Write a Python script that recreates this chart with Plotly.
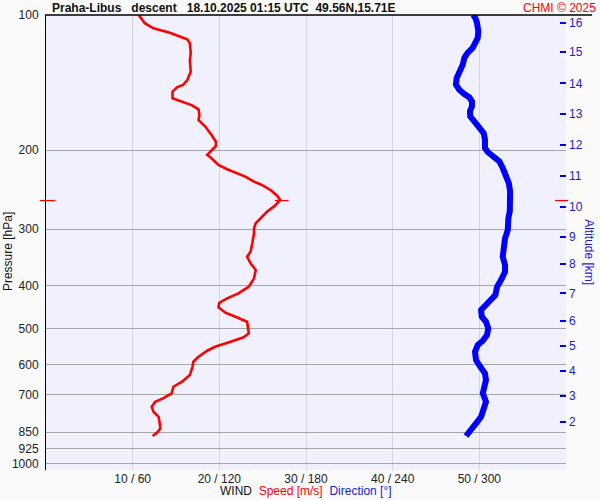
import plotly.graph_objects as go

# wind speed profile (m/s) vs pressure (hPa)
speed_p = [100, 104.3, 107.1, 108.4, 109.5, 111.8, 113.3, 115.6, 121.7, 126.0,
           133.8, 139.6, 143.2, 144.9, 148.2, 153.3, 155.2, 157.3, 158.7, 162.2,
           167.0, 171.4, 177.4, 185.0, 191.5, 195.8, 201.6, 205.0, 208.5, 215.8,
           220.6, 225.2, 229.1, 235.1, 239.1, 245.3, 252.9, 258.2, 265.0, 274.2,
           283.7, 291.0, 298.6, 306.3, 322.5, 336.7, 345.4, 357.3, 369.8, 385.9,
           402.9, 416.8, 427.6, 437.4, 447.7, 460.3, 471.3, 482.2, 511.6, 522.2,
           534.1, 548.1, 559.4, 576.8, 591.8, 607.4, 633.9, 655.9, 672.9, 696.3,
           714.4, 726.9, 745.8, 765.2, 785.1, 832.8, 851.8, 866.3]
speed = [10.7, 11.4, 12.4, 13.4, 14.3, 15.5, 16.3, 16.6, 16.7, 16.6,
         16.7, 16.3, 15.8, 15.1, 14.6, 14.6, 15.3, 16.1, 16.8, 17.6,
         17.7, 17.6, 18.4, 19.1, 19.6, 19.6, 19.0, 18.6, 19.1, 19.9,
         20.9, 22.0, 23.0, 24.0, 24.9, 25.9, 26.7, 27.0, 26.5, 25.5,
         24.7, 24.2, 24.0, 24.0, 23.8, 23.6, 23.2, 23.6, 24.2, 24.0,
         23.4, 22.2, 20.9, 20.0, 19.9, 20.7, 22.0, 23.2, 23.4, 22.8,
         21.3, 19.5, 18.6, 17.6, 17.0, 16.9, 16.6, 15.7, 14.7, 14.5,
         13.5, 12.6, 12.2, 12.4, 13.0, 13.2, 12.8, 12.3]

# wind direction profile (deg) vs pressure (hPa)
dir_p = [100, 101.5, 104.2, 108.7, 112.5, 115.4, 118.4, 121.5, 124.7, 129.0,
         133.5, 138.1, 142.9, 146.7, 150.0, 152.5, 155.7, 159.7, 163.9, 168.1,
         172.5, 177.9, 183.2, 189.5, 197.8, 201.9, 206.4, 211.8, 219.2, 228.7,
         236.7, 247.0, 260.0, 273.6, 283.3, 301.2, 314.3, 328.1, 345.4, 360.5,
         373.0, 389.3, 402.9, 420.4, 431.3, 442.5, 454.0, 469.9, 482.2, 498.8,
         516.2, 531.4, 543.3, 562.3, 586.7, 607.4, 628.1, 650.2, 672.9, 696.3,
         726.9, 751.6, 785.1, 812.0, 840.2, 866.3]
direction = [295.6, 297.2, 298.4, 299.3, 298.9, 297.7, 295.4, 291.9, 289.6, 288.5,
             286.1, 284.3, 283.8, 286.1, 289.6, 293.0, 294.9, 294.9, 293.5, 293.7,
             296.5, 300.0, 303.0, 303.9, 303.9, 305.8, 310.4, 313.9, 316.2, 318.5,
             320.4, 321.3, 321.3, 321.1, 320.1, 319.7, 317.8, 316.9, 316.2, 317.8,
             317.8, 315.0, 312.3, 311.1, 307.6, 303.5, 301.2, 301.7, 304.6, 306.2,
             305.3, 302.4, 298.9, 297.0, 297.7, 300.7, 303.9, 304.6, 303.0, 302.4,
             304.6, 303.5, 301.2, 297.7, 294.2, 290.8]

pressure_ticks = [100, 200, 300, 400, 500, 600, 700, 850, 925, 1000]
alt_km = [2, 3, 4, 5, 6, 7, 8, 9, 10, 11, 12, 13, 14, 15, 16]
alt_p = [805, 706, 621, 546, 480, 417, 359, 312, 267, 228, 195, 166, 142, 121, 104]
speed_ticks = [10, 20, 30, 40, 50, 60]
speed_ticktext = ["10 / 60", "20 / 120", "30 / 180", "40 / 240", "50 / 300", ""]

mxws_speed = 27.0
mxws_p = 259

FONT = "Liberation Sans, Arial, sans-serif"
RED = "#ff0000"
BLUE = "#0000ff"
LBLUE = "#1a1ad0"
LOG_RANGE = [3.0134, 2]

fig = go.Figure()
fig.add_trace(go.Scatter(x=speed, y=speed_p, mode="lines",
                         line=dict(color=RED, width=2.6), hoverinfo="skip"))
fig.add_trace(go.Scatter(x=direction, y=dir_p, mode="lines", xaxis="x2",
                         line=dict(color=BLUE, width=6), hoverinfo="skip"))
# placeholder so the altitude axis is drawn
fig.add_trace(go.Scatter(x=[None], y=[None], yaxis="y2", hoverinfo="skip"))

fig.update_layout(
    width=600, height=500,
    margin=dict(l=46, r=34, t=15, b=30),
    paper_bgcolor="#fafafa", plot_bgcolor="#f0f0fe",
    showlegend=False,
    font=dict(family=FONT, size=12, color="#222222"),
    xaxis=dict(range=[0, 60], tickvals=speed_ticks, ticktext=speed_ticktext,
               showgrid=True, gridcolor="#d6d6dc", gridwidth=1, zeroline=False,
               showline=False, ticks="", ticklabelstandoff=0, automargin=False,
               tickfont=dict(size=12, color="#222222")),
    xaxis2=dict(range=[0, 360], overlaying="x", visible=False),
    yaxis=dict(type="log", range=LOG_RANGE, tickvals=pressure_ticks,
               ticktext=[str(v) for v in pressure_ticks],
               showgrid=True, gridcolor="#a6a6a6", gridwidth=1, zeroline=False,
               showline=True, linecolor="#000000", linewidth=1, ticks="",
               ticklabelstandoff=4, automargin=False,
               tickfont=dict(size=12, color="#222222")),
    yaxis2=dict(type="log", range=LOG_RANGE, overlaying="y", side="right",
                tickvals=alt_p, ticktext=[str(v) for v in alt_km],
                showgrid=False, zeroline=False, showline=False, automargin=False,
                ticks="inside", ticklen=6, tickcolor=BLUE, tickwidth=1.5,
                ticklabelstandoff=2, tickfont=dict(size=12, color=LBLUE)),
)

shapes = [
    # top frame line
    dict(type="line", xref="paper", yref="paper", x0=-0.002, x1=1.05, y0=1, y1=1,
         line=dict(color="#000000", width=1.5)),
    # max wind markers on both sides
    dict(type="line", xref="paper", yref="y", x0=-0.012, x1=0.018,
         y0=mxws_p, y1=mxws_p, line=dict(color=RED, width=1.3)),
    dict(type="line", xref="paper", yref="y", x0=0.979, x1=1.004,
         y0=mxws_p, y1=mxws_p, line=dict(color=RED, width=1.3)),
    dict(type="line", xref="x", yref="y", x0=mxws_speed - 0.6, x1=mxws_speed + 1.0,
         y0=mxws_p, y1=mxws_p, line=dict(color=RED, width=1.3)),
]
fig.update_layout(shapes=shapes)

nb = "\u00a0"
annotations = [
    dict(text=f"<b>Praha-Libus{nb*3}descent{nb*3}18.10.2025 01:15 UTC{nb*2}49.56N,15.71E</b>",
         xref="paper", yref="paper", x=0.008, y=1.016, xanchor="left", yanchor="middle",
         showarrow=False, font=dict(size=12, color="#111111")),
    dict(text="CHMI © 2025", xref="paper", yref="paper", x=1.062, y=1.016,
         xanchor="right", yanchor="middle", showarrow=False,
         font=dict(size=12, color=RED)),
    dict(text="Pressure [hPa]", xref="paper", yref="paper", x=-0.073, y=0.479,
         xanchor="center", yanchor="middle",
         textangle=-90, showarrow=False, font=dict(size=12, color="#111111")),
    dict(text="Altitude [km]", xref="paper", yref="paper", x=1.044, y=0.479,
         xanchor="center", yanchor="middle",
         textangle=90, showarrow=False, font=dict(size=12, color=LBLUE)),
    dict(text=f"WIND{nb*2}<span style='color:{RED}'>Speed [m/s]</span>{nb*2}"
              f"<span style='color:{LBLUE}'>Direction [°]</span>",
         xref="paper", yref="paper", x=0.5, y=-0.046, xanchor="center", yanchor="middle",
         showarrow=False, font=dict(size=12, color="#111111")),
    dict(text="MXWS", xref="x", yref="y", x=mxws_speed, y=mxws_p, xanchor="left",
         xshift=9, showarrow=False, bgcolor="rgba(255,255,255,0.6)",
         font=dict(size=11, color=RED)),
]
fig.update_layout(annotations=annotations)

fig.write_html("out.html", config={"displayModeBar": False},
               post_script="document.body.style.margin='0';")
